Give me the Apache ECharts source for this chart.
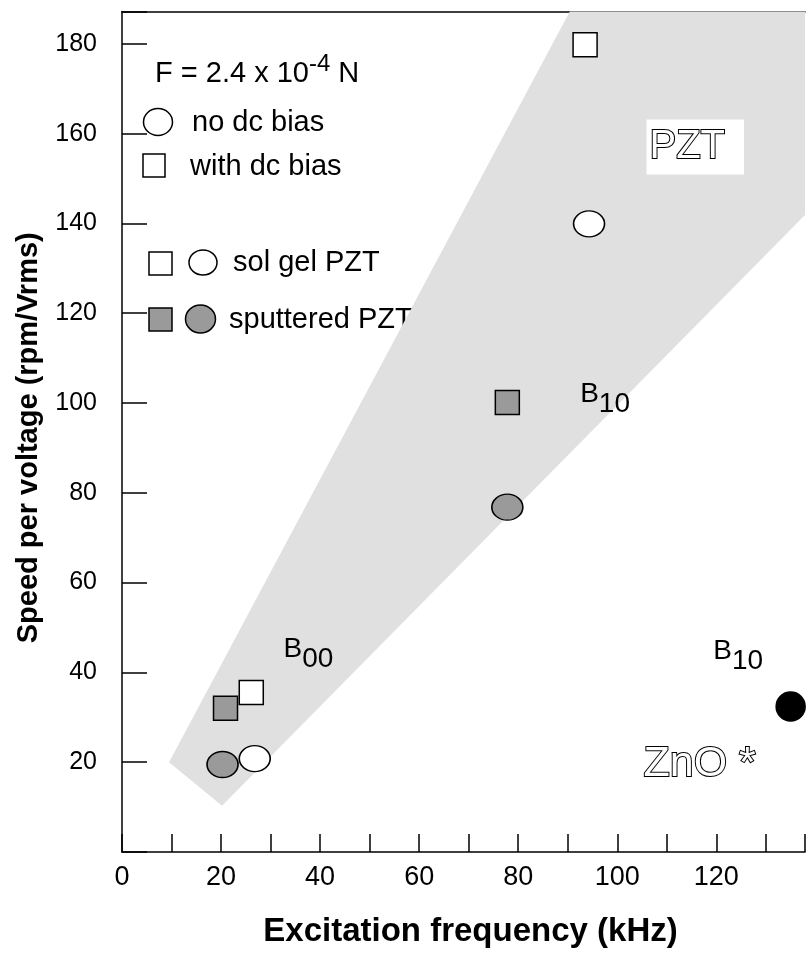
<!DOCTYPE html>
<html>
<head>
<meta charset="utf-8">
<script src="https://cdn.jsdelivr.net/npm/echarts@6/dist/echarts.min.js"></script>
<style>
html, body { margin: 0; padding: 0; background: #fff; }
#chart { width: 808px; height: 953px; }
</style>
</head>
<body>
<div id="chart"></div>
<script>
// measured points [kHz, rpm/Vrms]
const solGelNoBias = [[26.8, 20.8], [94.3, 139.9]];
const solGelBias = [[26.1, 35.5], [93.5, 179.8]];
const sputteredNoBias = [[20.3, 19.5], [77.8, 76.8]];
const sputteredBias = [[20.9, 32.0], [77.8, 100.1]];
const znoPoint = [[135.0, 32.4]];

// shaded PZT band outline
const pztBand = [[20.2, 10.3], [9.5, 20.0], [96.6, 200], [150, 200], [150, 155.4]];

// mode labels (left edge of the text, middle of the block)
const modeLabels = [
    { name: '00', value: [32.6, 44.1] },
    { name: '10', value: [92.5, 100.9] },
    { name: '10', value: [119.4, 43.6] }
];

const X_MAX = 137.9;
const Y_MAX = 187.2;
const FONT = '"Liberation Sans", Arial, Helvetica, sans-serif';
const GRAY = '#9a9a9a';

const chart = echarts.init(document.getElementById('chart'));

const markerSeries = (name, data, symbol, size, fill) => ({
    name: name,
    type: 'scatter',
    data: data,
    symbol: symbol,
    symbolSize: size,
    clip: true,
    z: 5,
    itemStyle: { color: fill, borderColor: '#000', borderWidth: 1.5, opacity: 1 }
});

const outlined = {
    color: '#fff',
    textBorderColor: '#000',
    textBorderWidth: 2,
    textShadowColor: '#000',
    textShadowBlur: 0,
    textShadowOffsetX: 2,
    textShadowOffsetY: 2,
    fontFamily: FONT,
    fontSize: 40
};

const option = {
    backgroundColor: '#fff',
    animation: false,
    textStyle: { fontFamily: FONT },
    grid: { left: 122, top: 11.5, right: 0, bottom: 92.5 },
    xAxis: [
        {
            type: 'value', min: 0, max: X_MAX, interval: 10,
            name: 'Excitation frequency (kHz)',
            nameLocation: 'middle', nameGap: 63,
            nameTextStyle: { fontSize: 33, fontWeight: 'bold', color: '#000', padding: [0, 0, 0, 14] },
            axisLine: { lineStyle: { color: '#000', width: 1.5 } },
            axisTick: { inside: true, length: 18, lineStyle: { color: '#000', width: 1.5 } },
            axisLabel: {
                fontSize: 27, color: '#000', margin: 12,
                formatter: v => (v % 20 === 0 ? String(v) : '')
            },
            splitLine: { show: false }
        },
        {
            type: 'value', min: 0, max: X_MAX, position: 'top',
            axisLine: { lineStyle: { color: '#000', width: 1.5 } },
            axisTick: { show: false },
            axisLabel: { show: false },
            splitLine: { show: false }
        }
    ],
    yAxis: {
        type: 'value', min: 0, max: Y_MAX, interval: 20,
        name: 'Speed per voltage (rpm/Vrms)',
        nameLocation: 'middle', nameGap: 79,
        nameTextStyle: { fontSize: 29, fontWeight: 'bold', color: '#000', padding: [0, 12, 0, 0] },
        axisLine: { lineStyle: { color: '#000', width: 1.5 } },
        axisTick: { inside: true, length: 25, lineStyle: { color: '#000', width: 1.5 } },
        axisLabel: {
            fontSize: 25, color: '#000', margin: 25,
            formatter: v => (v > 0 && v % 20 === 0 ? String(v) : '')
        },
        splitLine: { show: false }
    },
    series: [
        {
            type: 'custom',
            z: 1,
            clip: true,
            silent: true,
            data: [0],
            renderItem: (params, api) => ({
                type: 'polygon',
                shape: { points: pztBand.map(p => api.coord(p)) },
                style: { fill: '#e0e0e0' }
            })
        },
        markerSeries('sol gel no bias', solGelNoBias, 'circle', [31, 26], '#fff'),
        markerSeries('sol gel bias', solGelBias, 'rect', 24, '#fff'),
        markerSeries('sputtered no bias', sputteredNoBias, 'circle', [31, 26], GRAY),
        markerSeries('sputtered bias', sputteredBias, 'rect', 24, GRAY),
        markerSeries('ZnO', znoPoint, 'circle', 29, '#000'),
        {
            name: 'modes',
            type: 'scatter',
            symbolSize: 0,
            z: 6,
            silent: true,
            itemStyle: { opacity: 1 },
            data: modeLabels,
            label: {
                show: true,
                position: 'inside',
                align: 'left',
                formatter: p => '{b|B}{s|' + p.name + '}',
                rich: {
                    b: { fontSize: 28, lineHeight: 38, verticalAlign: 'top', color: '#000', fontFamily: FONT },
                    s: { fontSize: 28, lineHeight: 38, verticalAlign: 'bottom', color: '#000', fontFamily: FONT }
                }
            }
        },
        {
            name: 'materials',
            type: 'scatter',
            symbolSize: 0,
            z: 6,
            silent: true,
            itemStyle: { opacity: 1 },
            data: [
                {
                    value: [105.9, 157.0],
                    label: Object.assign({}, outlined, {
                        formatter: 'PZT',
                        backgroundColor: '#fff',
                        padding: [1, 19, 14, 3]
                    })
                },
                {
                    value: [105.3, 19.5],
                    label: Object.assign({}, outlined, { formatter: 'ZnO *', fontSize: 43 })
                }
            ],
            label: {
                show: true,
                position: 'inside',
                align: 'left',
                verticalAlign: 'middle'
            }
        }
    ],
    graphic: [
        {
            type: 'text', left: 155, top: 52,
            style: {
                text: '{t|F = 2.4 x 10}{p|-4}{t| N}',
                rich: {
                    t: { fontSize: 29, lineHeight: 36, verticalAlign: 'bottom', fill: '#000', fontFamily: FONT },
                    p: { fontSize: 24, lineHeight: 28, verticalAlign: 'top', fill: '#000', fontFamily: FONT }
                }
            }
        },
        { type: 'ellipse', shape: { cx: 158, cy: 122, rx: 14.5, ry: 13.5 }, style: { fill: '#fff', stroke: '#000', lineWidth: 1.5 } },
        { type: 'text', left: 192, top: 108.5, style: { text: 'no dc bias', fontSize: 29, fill: '#000', fontFamily: FONT } },
        { type: 'rect', shape: { x: 143, y: 154, width: 22, height: 23 }, style: { fill: '#fff', stroke: '#000', lineWidth: 1.5 } },
        { type: 'text', left: 190, top: 152, style: { text: 'with dc bias', fontSize: 29, fill: '#000', fontFamily: FONT } },
        { type: 'rect', shape: { x: 149, y: 252, width: 23, height: 23 }, style: { fill: '#fff', stroke: '#000', lineWidth: 1.5 } },
        { type: 'ellipse', shape: { cx: 203, cy: 262.5, rx: 14, ry: 12.5 }, style: { fill: '#fff', stroke: '#000', lineWidth: 1.5 } },
        { type: 'text', left: 233, top: 248.5, style: { text: 'sol gel PZT', fontSize: 29, fill: '#000', fontFamily: FONT } },
        { type: 'rect', shape: { x: 149, y: 308, width: 23, height: 23 }, style: { fill: GRAY, stroke: '#000', lineWidth: 1.5 } },
        { type: 'ellipse', shape: { cx: 200.5, cy: 319, rx: 15, ry: 14 }, style: { fill: GRAY, stroke: '#000', lineWidth: 1.5 } },
        { type: 'text', left: 229, top: 305.5, style: { text: 'sputtered PZT', fontSize: 29, fill: '#000', fontFamily: FONT } }
    ]
};

chart.setOption(option);
</script>
</body>
</html>
